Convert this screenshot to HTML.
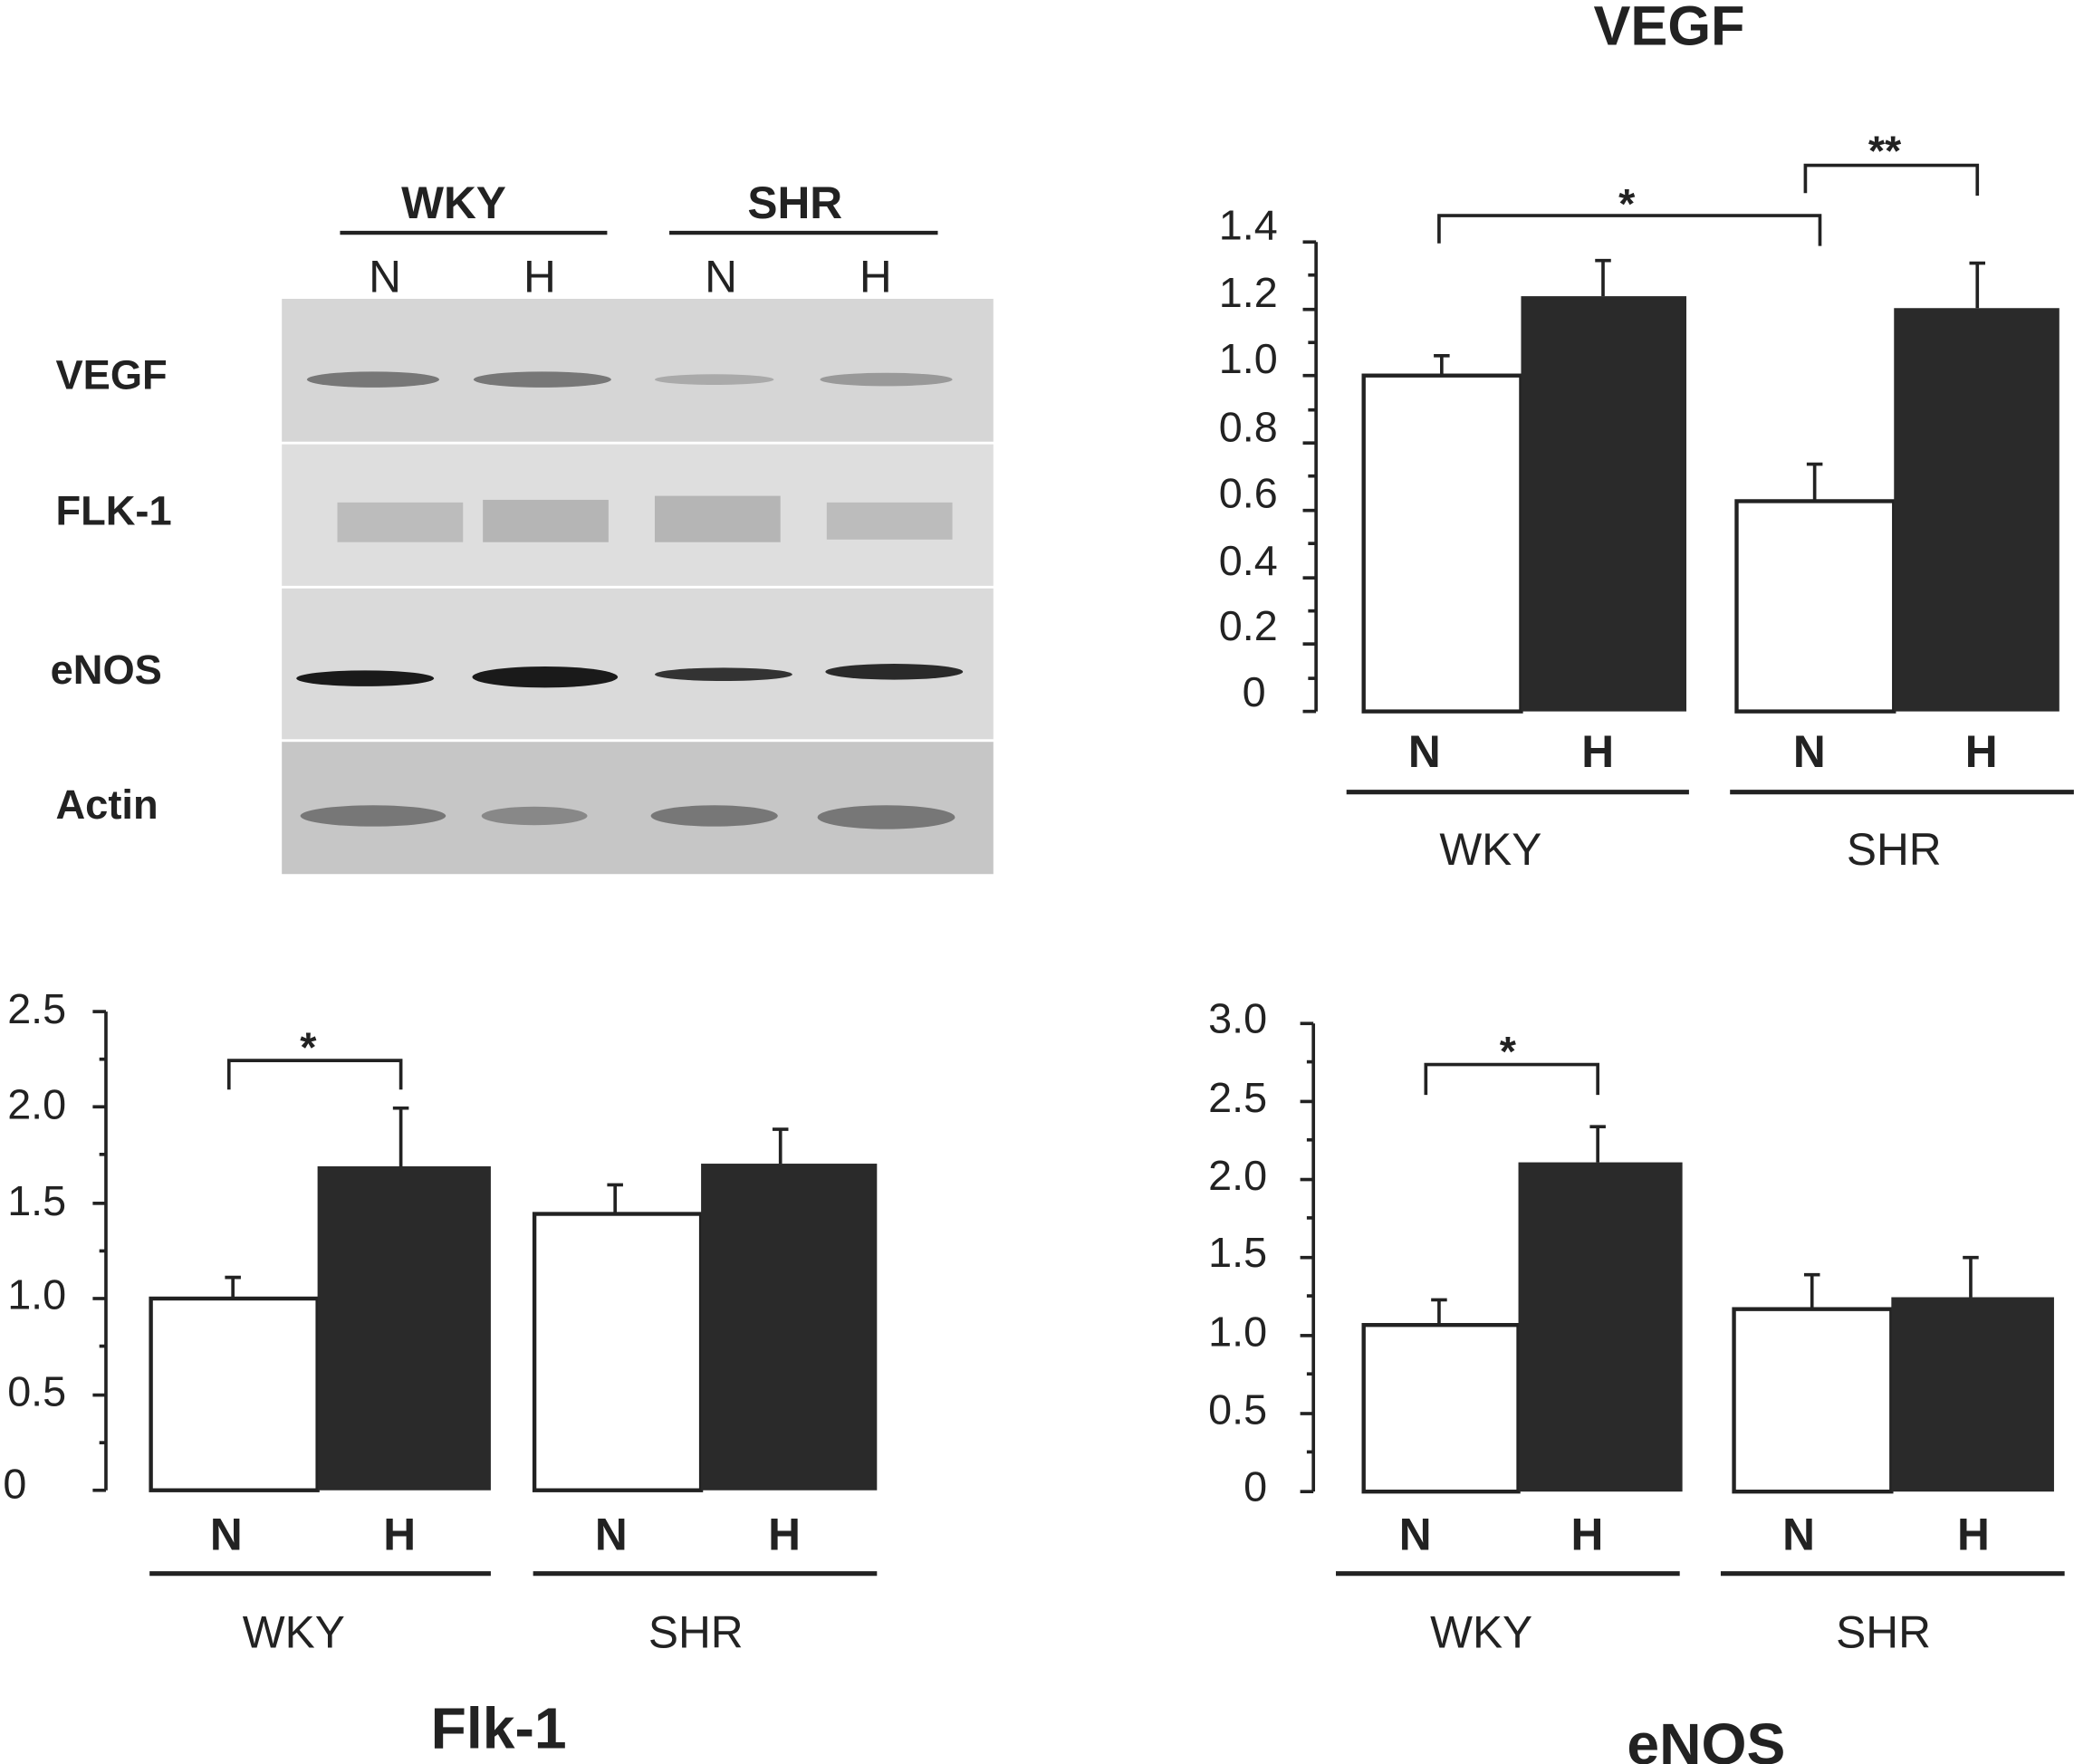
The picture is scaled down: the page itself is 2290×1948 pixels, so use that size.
<!DOCTYPE html>
<html><head><meta charset="utf-8"><style>
html,body{margin:0;padding:0;background:#fff;}
svg{display:block;}
text{font-family:"Liberation Sans",sans-serif;fill:#222;}
.b{font-weight:bold;}
</style></head><body>
<svg width="2290" height="1948" viewBox="0 0 1568 1334" xmlns="http://www.w3.org/2000/svg">
<!-- Western blot -->
<rect x="213" y="226" width="538" height="108" fill="#d6d6d6"/>
<rect x="213" y="336" width="538" height="107" fill="#dedede"/>
<rect x="213" y="445" width="538" height="114" fill="#dadada"/>
<rect x="213" y="561" width="538" height="100" fill="#c6c6c6"/>
<g fill="#999"><rect x="255" y="380" width="95" height="30" opacity="0.5"/><rect x="365" y="378" width="95" height="32" opacity="0.6"/><rect x="495" y="375" width="95" height="35" opacity="0.6"/><rect x="625" y="380" width="95" height="28" opacity="0.5"/></g>
<g fill="#777"><ellipse cx="282" cy="287" rx="50" ry="6"/><ellipse cx="410" cy="287" rx="52" ry="6"/><ellipse cx="540" cy="287" rx="45" ry="4" fill="#aaa"/><ellipse cx="670" cy="287" rx="50" ry="5" fill="#999"/></g>
<g fill="#1a1a1a"><ellipse cx="276" cy="513" rx="52" ry="6"/><ellipse cx="412" cy="512" rx="55" ry="8"/><ellipse cx="547" cy="510" rx="52" ry="5" fill="#333"/><ellipse cx="676" cy="508" rx="52" ry="6" fill="#2a2a2a"/></g>
<g fill="#777"><ellipse cx="282" cy="617" rx="55" ry="8"/><ellipse cx="404" cy="617" rx="40" ry="7" fill="#888"/><ellipse cx="540" cy="617" rx="48" ry="8"/><ellipse cx="670" cy="618" rx="52" ry="9"/></g>
<g class="b" font-size="31"><text x="42" y="294" class="b">VEGF</text><text x="42" y="397" class="b">FLK-1</text><text x="38" y="517" class="b">eNOS</text><text x="42" y="619" class="b">Actin</text></g>
<g font-size="34" text-anchor="middle"><text x="343" y="165" class="b">WKY</text><text x="601" y="165" class="b">SHR</text></g>
<g stroke="#222" stroke-width="3"><line x1="257" y1="176" x2="459" y2="176"/><line x1="506" y1="176" x2="709" y2="176"/></g>
<g font-size="34" text-anchor="middle"><text x="291" y="221">N</text><text x="408" y="221">H</text><text x="545" y="221">N</text><text x="662" y="221">H</text></g>

<!-- VEGF chart -->
<text x="1262" y="34" font-size="42" text-anchor="middle" class="b">VEGF</text>
<g stroke="#222" stroke-width="2.5" fill="none">
<line x1="995" y1="183" x2="995" y2="538"/><line x1="985" y1="538" x2="995" y2="538"/>
<line x1="985" y1="183" x2="995" y2="183"/><line x1="985" y1="234" x2="995" y2="234"/><line x1="985" y1="284" x2="995" y2="284"/><line x1="985" y1="335" x2="995" y2="335"/><line x1="985" y1="386" x2="995" y2="386"/><line x1="985" y1="437" x2="995" y2="437"/><line x1="985" y1="487" x2="995" y2="487"/>
<line x1="989" y1="208" x2="995" y2="208"/><line x1="989" y1="259" x2="995" y2="259"/><line x1="989" y1="310" x2="995" y2="310"/><line x1="989" y1="360" x2="995" y2="360"/><line x1="989" y1="411" x2="995" y2="411"/><line x1="989" y1="462" x2="995" y2="462"/><line x1="989" y1="513" x2="995" y2="513"/>
<line x1="1090" y1="283" x2="1090" y2="269"/><line x1="1084" y1="269" x2="1096" y2="269"/>
<line x1="1212" y1="224" x2="1212" y2="197"/><line x1="1206" y1="197" x2="1218" y2="197"/>
<line x1="1372" y1="378" x2="1372" y2="351"/><line x1="1366" y1="351" x2="1378" y2="351"/>
<line x1="1495" y1="233" x2="1495" y2="199"/><line x1="1489" y1="199" x2="1501" y2="199"/>
<polyline points="1088,184 1088,163 1376,163 1376,186"/>
<polyline points="1365,146 1365,125 1495,125 1495,148"/>
</g>
<rect x="1031" y="284" width="119" height="254" fill="#fff" stroke="#222" stroke-width="3"/>
<rect x="1150" y="224" width="125" height="314" fill="#2a2a2a"/>
<rect x="1313" y="379" width="119" height="159" fill="#fff" stroke="#222" stroke-width="3"/>
<rect x="1432" y="233" width="125" height="305" fill="#2a2a2a"/>
<g font-size="32" text-anchor="end"><text x="966" y="181">1.4</text><text x="966" y="232">1.2</text><text x="966" y="282">1.0</text><text x="966" y="334">0.8</text><text x="966" y="384">0.6</text><text x="966" y="435">0.4</text><text x="966" y="484">0.2</text><text x="957" y="534">0</text></g>
<g font-size="32" text-anchor="middle" class="b"><text x="1230" y="165" class="b">*</text><text x="1425" y="125" class="b">**</text></g>
<g font-size="34" text-anchor="middle"><text x="1077" y="580" class="b">N</text><text x="1208" y="580" class="b">H</text><text x="1368" y="580" class="b">N</text><text x="1498" y="580" class="b">H</text><text x="1127" y="654">WKY</text><text x="1432" y="654">SHR</text></g>
<g stroke="#222" stroke-width="3.5"><line x1="1018" y1="599" x2="1277" y2="599"/><line x1="1308" y1="599" x2="1568" y2="599"/></g>

<!-- Flk-1 chart -->
<g stroke="#222" stroke-width="2.5" fill="none">
<line x1="80" y1="765" x2="80" y2="1127"/><line x1="70" y1="1127" x2="80" y2="1127"/>
<line x1="70" y1="765" x2="80" y2="765"/><line x1="70" y1="837" x2="80" y2="837"/><line x1="70" y1="910" x2="80" y2="910"/><line x1="70" y1="982" x2="80" y2="982"/><line x1="70" y1="1055" x2="80" y2="1055"/>
<line x1="75" y1="801" x2="80" y2="801"/><line x1="75" y1="873" x2="80" y2="873"/><line x1="75" y1="946" x2="80" y2="946"/><line x1="75" y1="1018" x2="80" y2="1018"/><line x1="75" y1="1091" x2="80" y2="1091"/>
<line x1="176" y1="982" x2="176" y2="966"/><line x1="170" y1="966" x2="182" y2="966"/>
<line x1="303" y1="882" x2="303" y2="838"/><line x1="297" y1="838" x2="309" y2="838"/>
<line x1="465" y1="918" x2="465" y2="896"/><line x1="459" y1="896" x2="471" y2="896"/>
<line x1="590" y1="880" x2="590" y2="854"/><line x1="584" y1="854" x2="596" y2="854"/>
<polyline points="173,824 173,802 303,802 303,824"/>
</g>
<rect x="114" y="982" width="126" height="145" fill="#fff" stroke="#222" stroke-width="3"/>
<rect x="240" y="882" width="131" height="245" fill="#2a2a2a"/>
<rect x="404" y="918" width="126" height="209" fill="#fff" stroke="#222" stroke-width="3"/>
<rect x="530" y="880" width="133" height="247" fill="#2a2a2a"/>
<g font-size="32" text-anchor="end"><text x="50" y="774">2.5</text><text x="50" y="846">2.0</text><text x="50" y="919">1.5</text><text x="50" y="990">1.0</text><text x="50" y="1063">0.5</text><text x="20" y="1133">0</text></g>
<text x="233" y="803" font-size="32" text-anchor="middle" class="b">*</text>
<g font-size="34" text-anchor="middle"><text x="171" y="1172" class="b">N</text><text x="302" y="1172" class="b">H</text><text x="462" y="1172" class="b">N</text><text x="593" y="1172" class="b">H</text><text x="222" y="1246">WKY</text><text x="526" y="1246">SHR</text></g>
<g stroke="#222" stroke-width="3.5"><line x1="113" y1="1190" x2="371" y2="1190"/><line x1="403" y1="1190" x2="663" y2="1190"/></g>
<text x="377" y="1322" font-size="44" text-anchor="middle" class="b">Flk-1</text>

<!-- eNOS chart -->
<g stroke="#222" stroke-width="2.5" fill="none">
<line x1="993" y1="774" x2="993" y2="1128"/><line x1="983" y1="1128" x2="993" y2="1128"/>
<line x1="983" y1="774" x2="993" y2="774"/><line x1="983" y1="833" x2="993" y2="833"/><line x1="983" y1="892" x2="993" y2="892"/><line x1="983" y1="951" x2="993" y2="951"/><line x1="983" y1="1010" x2="993" y2="1010"/><line x1="983" y1="1069" x2="993" y2="1069"/>
<line x1="988" y1="803" x2="993" y2="803"/><line x1="988" y1="862" x2="993" y2="862"/><line x1="988" y1="921" x2="993" y2="921"/><line x1="988" y1="980" x2="993" y2="980"/><line x1="988" y1="1039" x2="993" y2="1039"/><line x1="988" y1="1098" x2="993" y2="1098"/>
<line x1="1088" y1="1002" x2="1088" y2="983"/><line x1="1082" y1="983" x2="1094" y2="983"/>
<line x1="1208" y1="879" x2="1208" y2="852"/><line x1="1202" y1="852" x2="1214" y2="852"/>
<line x1="1370" y1="990" x2="1370" y2="964"/><line x1="1364" y1="964" x2="1376" y2="964"/>
<line x1="1490" y1="981" x2="1490" y2="951"/><line x1="1484" y1="951" x2="1496" y2="951"/>
<polyline points="1078,828 1078,805 1208,805 1208,828"/>
</g>
<rect x="1031" y="1002" width="117" height="126" fill="#fff" stroke="#222" stroke-width="3"/>
<rect x="1148" y="879" width="124" height="249" fill="#2a2a2a"/>
<rect x="1311" y="990" width="119" height="138" fill="#fff" stroke="#222" stroke-width="3"/>
<rect x="1430" y="981" width="123" height="147" fill="#2a2a2a"/>
<g font-size="32" text-anchor="end"><text x="958" y="781">3.0</text><text x="958" y="841">2.5</text><text x="958" y="900">2.0</text><text x="958" y="958">1.5</text><text x="958" y="1018">1.0</text><text x="958" y="1077">0.5</text><text x="958" y="1135">0</text></g>
<text x="1140" y="806" font-size="32" text-anchor="middle" class="b">*</text>
<g font-size="34" text-anchor="middle"><text x="1070" y="1172" class="b">N</text><text x="1200" y="1172" class="b">H</text><text x="1360" y="1172" class="b">N</text><text x="1492" y="1172" class="b">H</text><text x="1120" y="1246">WKY</text><text x="1424" y="1246">SHR</text></g>
<g stroke="#222" stroke-width="3.5"><line x1="1010" y1="1190" x2="1270" y2="1190"/><line x1="1301" y1="1190" x2="1561" y2="1190"/></g>
<text x="1290" y="1334" font-size="44" text-anchor="middle" class="b">eNOS</text>
</svg>
</body></html>
